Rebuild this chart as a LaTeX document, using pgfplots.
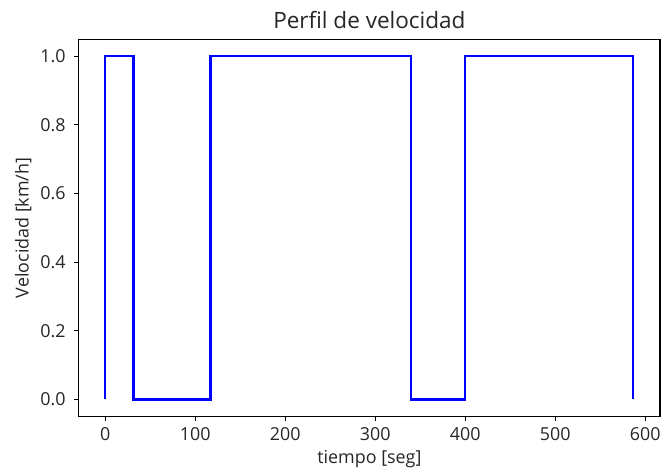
\documentclass[border=0pt]{standalone}
\usepackage{fontspec}
\setmainfont{Open Sans}
\usepackage{pgfplots}
\pgfplotsset{compat=1.18}
\definecolor{axcol}{RGB}{38,38,38}
\begin{document}
\begin{tikzpicture}
\begin{axis}[
  at={(0,0)}, anchor=south west,
  scale only axis, width=438.75pt, height=285pt,
  xmin=-29.35, xmax=616.35, ymin=-0.05, ymax=1.05,
  xtick={0,100,...,600}, ytick={0,0.2,...,1.0},
  /pgf/number format/assume math mode=true,
  yticklabel style={/pgf/number format/fixed, /pgf/number format/fixed zerofill, /pgf/number format/precision=1, xshift=-3pt},
  xticklabel style={/pgf/number format/fixed, /pgf/number format/precision=0, yshift=-1.5pt},
  tick align=outside, tick pos=left, major tick length=3.5pt,
  axis line style={line width=0.8pt, black},
  tick style={line width=0.8pt, black},
  ticklabel style={font=\fontsize{13.5}{15}\selectfont, text=axcol},
  title={Perfil de velocidad},
  title style={font=\fontsize{17}{19}\selectfont, text=axcol, at={(axis description cs:0.5,1)}, anchor=base, yshift=2.2pt},
  xlabel={tiempo [seg]}, ylabel={Velocidad [km/h]},
  label style={font=\fontsize{13.5}{15}\selectfont, text=axcol},
  xlabel style={at={(axis description cs:0.5,0)}, anchor=base, yshift=-35.8pt},
  ylabel style={at={(axis description cs:-0.0957,0.5)}, anchor=center},
]
\addplot[blue, line width=1.8pt] coordinates {
 (0,0) (0,1) (31.3,1) (31.3,0) (117,0) (117,1) (340,1) (340,0) (400,0) (400,1) (586.5,1) (586.5,0)
};
\end{axis}
\path[use as bounding box] (-59.5pt,-41pt) rectangle (439.25pt,314.5pt);
\end{tikzpicture}
\end{document}
